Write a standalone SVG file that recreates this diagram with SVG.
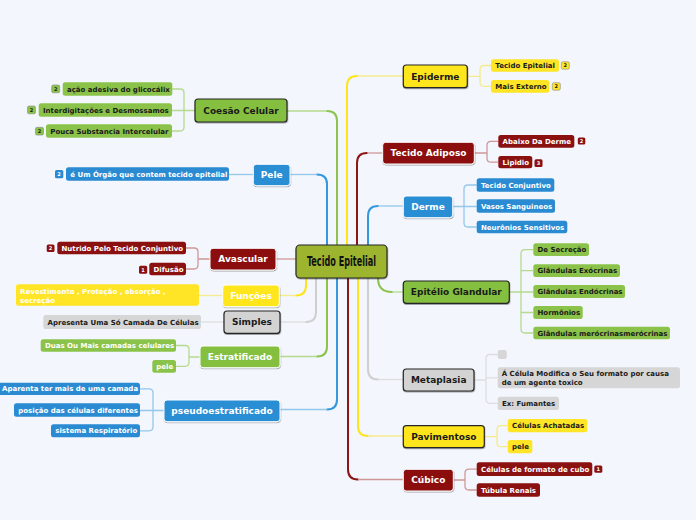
<svg xmlns="http://www.w3.org/2000/svg" width="696" height="520" viewBox="0 0 696 520">
<defs>
<filter id="sh" x="-20%" y="-30%" width="140%" height="170%">
<feDropShadow dx="0.4" dy="1" stdDeviation="0.7" flood-color="#000" flood-opacity="0.35"/>
</filter>
<style>
.t0{font-family:"DejaVu Sans Condensed","DejaVu Sans",sans-serif;font-weight:bold;font-size:14px;fill:#111;text-anchor:middle}
.t1{font-family:"DejaVu Sans",Verdana,sans-serif;font-weight:bold;font-size:9px;text-anchor:middle}
.t2{font-family:"DejaVu Sans",Verdana,sans-serif;font-weight:bold;font-size:7px}
.tb{font-family:"DejaVu Sans",sans-serif;font-weight:bold;font-size:5px;text-anchor:middle}
.w{fill:#fff}
.k{fill:#1a1a1a}
.dk{stroke:#262626;stroke-width:1.2}
.lt{stroke:#fff;stroke-width:1}
.sh{filter:url(#sh)}
.G{fill:#84bf40}.B{fill:#2b8ed5}.R{fill:#8b0c0c}.Y{fill:#ffe61e}.S{fill:#d3d3d3}.C{fill:#9db52f}
.g{fill:#8bc34a}.b{fill:#2a8bd2}.r{fill:#8b1010}.y{fill:#ffe526}.s{fill:#d6d6d6}
.bd{stroke:#888;stroke-width:0.6}
.ln{fill:none;stroke-width:2;stroke-linecap:round}
.br{fill:none;stroke-width:1.3}
.lg{stroke:#8cc34d}.lb{stroke:#3598dc}.lr{stroke:#8c1515}.ly{stroke:#ffe41c}.ls{stroke:#cfcfcf}
.pg{stroke:#b5da8d}.pb{stroke:#94c7ec}.pr{stroke:#cf9898}.py{stroke:#f6ea8c}.ps{stroke:#dedede}
</style>
</defs>
<rect width="696" height="520" fill="#f3f6fd"/>

<g id="connectors">
<!-- main trunks -->
<path class="ln lg" d="M337,245 V121 Q337,111 327,111"/><path class="br pg" stroke-width="2" d="M327,111 H287"/>
<path class="ln lb" d="M327,245 V184 Q327,174.5 317,174.5"/><path class="br pb" stroke-width="2" d="M317,174.5 H290"/>
<path class="ln ly" d="M347,245 V86 Q347,76 357,76"/><path class="br py" stroke-width="2" d="M357,76 H403"/>
<path class="ln lr" d="M357,245 V163 Q357,153 367,153"/><path class="br pr" stroke-width="2" d="M367,153 H383"/>
<path class="ln lb" d="M368,245 V216 Q368,206 378,206"/><path class="br pb" stroke-width="2" d="M378,206 H403"/>
<path class="br pr" stroke-width="2" d="M276,259 H296"/>
<path class="ln ly" d="M306,278 V285.5 Q306,295.5 296,295.5"/><path class="br py" stroke-width="2" d="M296,295.5 H279"/>
<path class="ln ls" d="M316,278 V312 Q316,322 306,322"/><path class="br ps" stroke-width="2" d="M306,322 H280"/>
<path class="ln lg" d="M327,278 V346.5 Q327,356.5 317,356.5"/><path class="br pg" stroke-width="2" d="M317,356.5 H280"/>
<path class="ln lb" d="M337,278 V399.5 Q337,409.5 327,409.5"/><path class="br pb" stroke-width="2" d="M327,409.5 H280"/>
<path class="ln lr" d="M348,278 V469.5 Q348,479.5 358,479.5"/><path class="br pr" stroke-width="2" d="M358,479.5 H403"/>
<path class="ln ly" d="M358,278 V426 Q358,436 368,436"/><path class="br py" stroke-width="2" d="M368,436 H403"/>
<path class="ln ls" d="M368,278 V369.5 Q368,379.5 378,379.5"/><path class="br ps" stroke-width="2" d="M378,379.5 H403"/>
<path class="ln lg" d="M378,278 Q378,292 392,292"/><path class="br pg" stroke-width="2" d="M392,292 H403"/>

<!-- sub brackets left -->
<path class="br pg" d="M195,110.5 H184 V93 Q184,89 180,89 H172 M195,110.5 H172 M184,110.5 V127 Q184,131 180,131 H172"/>
<path class="br pb" d="M253,174.5 H229"/>
<path class="br pr" d="M210,259 H198 V252 Q198,248 194,248 H186 M198,259 V265 Q198,269 194,269 H186"/>
<path class="br py" d="M222.7,295.5 H199"/>
<path class="br ps" d="M224,322 H201"/>
<path class="br pg" d="M200,357 H189 V349.5 Q189,345.5 185,345.5 H176 M189,357 V362.3 Q189,366.3 185,366.3 H176"/>
<path class="br pb" d="M164,410.5 H153 V392.8 Q153,388.8 149,388.8 H140 M153,410.5 H140 M153,410.5 V426.8 Q153,430.8 149,430.8 H140"/>
<!-- sub brackets right -->
<path class="br py" d="M467.3,76.3 H480 V69.5 Q480,65.5 484,65.5 H491 M480,76.3 V82.3 Q480,86.3 484,86.3 H491"/>
<path class="br pr" d="M474.3,153 H487 V145.3 Q487,141.3 491,141.3 H498.3 M487,153 V158.2 Q487,162.2 491,162.2 H498.3"/>
<path class="br pb" d="M452.7,206.5 H464 V189 Q464,185 468,185 H476.7 M464,206.5 H476.7 M464,206.5 V223 Q464,227 468,227 H476.7"/>
<path class="br pg" d="M509.3,292 H521 V253.7 Q521,249.7 525,249.7 H533.3 M521,270.7 H533.3 M521,292 H533.3 M521,292 V329 Q521,333 525,333 H533.3 M521,312.5 H533.3"/>
<path class="br ps" d="M474,380 H486 V358.5 Q486,354.5 490,354.5 H497.7 M486,377.8 H497.7 M486,380 V399.3 Q486,403.3 490,403.3 H497.7"/>
<path class="br py" d="M484.3,436.7 H497 V429.7 Q497,425.7 501,425.7 H507.7 M497,436.7 V442.7 Q497,446.7 501,446.7 H507.7"/>
<path class="br pr" d="M453.3,480 H465 V473.2 Q465,469.2 469,469.2 H476.7 M465,480 V486 Q465,490 469,490 H476.7"/>
</g>

<g id="center">
<rect class="C dk sh" x="296" y="245" width="91" height="33" rx="4"/>
<text class="t0" x="341.5" y="266" textLength="69" lengthAdjust="spacingAndGlyphs">Tecido Epitelial</text>
</g>

<g id="coesao">
<rect class="G dk sh" x="195" y="99" width="92" height="23" rx="3"/>
<text class="t1 k" x="241" y="113.7">Coesão Celular</text>
<rect class="g" x="62.7" y="82.3" width="109.6" height="13.4" rx="2.5"/><text class="t2 k" x="67" y="91.6">ação adesiva do glicocálix</text>
<rect class="g" x="38.7" y="103.3" width="133.3" height="13.4" rx="2.5"/><text class="t2 k" x="43" y="112.6">Interdigitações e Desmossamos</text>
<rect class="g" x="46" y="124.3" width="126" height="13.4" rx="2.5"/><text class="t2 k" x="50.3" y="133.6">Pouca Substancia Intercelular</text>
<rect class="g bd" x="51.7" y="85" width="8" height="7.8" rx="1.5"/><text class="tb k" x="55.7" y="90.7">2</text>
<rect class="g bd" x="27.5" y="106" width="8" height="7.8" rx="1.5"/><text class="tb k" x="31.5" y="111.7">2</text>
<rect class="g bd" x="35.5" y="127.3" width="8" height="7.8" rx="1.5"/><text class="tb k" x="39.5" y="133">2</text>
</g>

<g id="pele">
<rect class="B lt sh" x="253.3" y="164.3" width="36.7" height="21.4" rx="3"/>
<text class="t1 w" x="271.7" y="178.2">Pele</text>
<rect class="b" x="66" y="167.3" width="163" height="13.4" rx="2.5"/><text class="t2 w" x="70.3" y="176.6">é Um Órgão que contem tecido epitelial</text>
<rect class="b" x="55" y="170" width="8.3" height="8.3" rx="1.5"/><text class="tb w" x="59.1" y="176">2</text>
</g>

<g id="avascular">
<rect class="R lt sh" x="210" y="248.3" width="66" height="21.7" rx="3"/>
<text class="t1 w" x="243" y="262.4">Avascular</text>
<rect class="r" x="57.3" y="241.7" width="128.7" height="12.6" rx="2.5"/><text class="t2 w" x="61.5" y="250.6">Nutrido Pelo Tecido Conjuntivo</text>
<rect class="r" x="149.3" y="262.7" width="36.7" height="12.6" rx="2.5"/><text class="t2 w" x="153.5" y="271.6">Difusão</text>
<rect class="r" x="46.7" y="244.6" width="7.8" height="7.5" rx="1.5"/><text class="tb w" x="50.6" y="250.1">2</text>
<rect class="r" x="139" y="265.7" width="8.2" height="8" rx="1.5"/><text class="tb w" x="143.1" y="271.5">1</text>
</g>

<g id="funcoes">
<rect class="Y lt sh" x="222.7" y="285" width="56.6" height="21.7" rx="3"/>
<text class="t1 w" x="251" y="299.1">Funções</text>
<rect class="y" x="16" y="284.3" width="183" height="21.4" rx="2.5"/>
<text class="t2 w" x="20" y="294">Revestimento , Proteção , absorção ,</text>
<text class="t2 w" x="20" y="302.5">secreção</text>
</g>

<g id="simples">
<rect class="S dk sh" x="224" y="311" width="56" height="22.3" rx="3"/>
<text class="t1 k" x="252" y="325.4">Simples</text>
<rect class="s" x="43.3" y="315" width="157.7" height="14" rx="2.5"/><text class="t2 k" x="47.5" y="324.6">Apresenta Uma Só Camada De Células</text>
</g>

<g id="estratificado">
<rect class="G lt sh" x="200" y="346" width="80" height="21.7" rx="3"/>
<text class="t1 w" x="240" y="360.1">Estratificado</text>
<rect class="g" x="40.7" y="339.3" width="135.3" height="12.4" rx="2.5"/><text class="t2 w" x="45" y="348">Duas Ou Mais camadas celulares</text>
<rect class="g" x="152.3" y="360" width="23.7" height="12.7" rx="2.5"/><text class="t2 w" x="156.3" y="368.8">pele</text>
</g>

<g id="pseudo">
<rect class="B lt sh" x="164" y="400" width="116" height="21.7" rx="3"/>
<text class="t1 w" x="222" y="414.1">pseudoestratificado</text>
<rect class="b" x="-3" y="382.7" width="143" height="12.3" rx="2.5"/><text class="t2 w" x="2" y="391.4">Aparenta ter mais de uma camada</text>
<rect class="b" x="14" y="403.3" width="126" height="13.4" rx="2.5"/><text class="t2 w" x="18.3" y="412.6">posição das células diferentes</text>
<rect class="b" x="51" y="424.3" width="89" height="13" rx="2.5"/><text class="t2 w" x="55.3" y="433.4">sistema Respiratório</text>
</g>

<g id="epiderme">
<rect class="Y dk sh" x="403.3" y="65" width="64" height="22.7" rx="3"/>
<text class="t1 k" x="435.3" y="79.6">Epiderme</text>
<rect class="y" x="491" y="59.3" width="68" height="12.4" rx="2.5"/><text class="t2 k" x="495.3" y="68">Tecido Epitelial</text>
<rect class="y" x="491" y="80" width="58.3" height="12.7" rx="2.5"/><text class="t2 k" x="495.3" y="88.8">Mais Externo</text>
<rect class="y bd" x="561.3" y="61.7" width="8" height="7.5" rx="1.5"/><text class="tb k" x="565.3" y="67.2">2</text>
<rect class="y bd" x="552.3" y="82.7" width="8" height="7.5" rx="1.5"/><text class="tb k" x="556.3" y="88.2">2</text>
</g>

<g id="adiposo">
<rect class="R lt sh" x="382.7" y="142.3" width="91.6" height="21.7" rx="3"/>
<text class="t1 w" x="428.5" y="156.4">Tecido Adiposo</text>
<rect class="r" x="498.3" y="135" width="76" height="12.7" rx="2.5"/><text class="t2 w" x="502.6" y="143.8">Abaixo Da Derme</text>
<rect class="r" x="498.3" y="156" width="34" height="12.3" rx="2.5"/><text class="t2 w" x="502.6" y="164.7">Lipidio</text>
<rect class="r" x="577.8" y="137.5" width="7.5" height="7" rx="1.5"/><text class="tb w" x="581.5" y="142.8">2</text>
<rect class="r" x="534.5" y="159.3" width="8" height="7.7" rx="1.5"/><text class="tb w" x="538.5" y="164.9">3</text>
</g>

<g id="derme">
<rect class="B lt sh" x="403.3" y="196" width="49.4" height="21.7" rx="3"/>
<text class="t1 w" x="428" y="210.1">Derme</text>
<rect class="b" x="476.7" y="178.3" width="77.6" height="13.4" rx="2.5"/><text class="t2 w" x="481" y="187.6">Tecido Conjuntivo</text>
<rect class="b" x="476.7" y="199.3" width="78.3" height="13.4" rx="2.5"/><text class="t2 w" x="481" y="208.6">Vasos Sanguineos</text>
<rect class="b" x="476.7" y="220.7" width="90.6" height="12.6" rx="2.5"/><text class="t2 w" x="481" y="229.6">Neurônios Sensitivos</text>
</g>

<g id="glandular">
<rect class="G dk sh" x="403.3" y="281" width="106" height="22.3" rx="3"/>
<text class="t1 k" x="456.3" y="295.4">Epitélio Glandular</text>
<rect class="g" x="533.3" y="243.3" width="55.7" height="12.7" rx="2.5"/><text class="t2 k" x="537.5" y="252.1">De Secreção</text>
<rect class="g" x="533.3" y="264.3" width="86.7" height="12.7" rx="2.5"/><text class="t2 k" x="537.5" y="273.1">Glândulas Exócrinas</text>
<rect class="g" x="533.3" y="285" width="91.7" height="13" rx="2.5"/><text class="t2 k" x="537.5" y="294">Glândulas Endócrinas</text>
<rect class="g" x="533.3" y="306" width="49.4" height="13" rx="2.5"/><text class="t2 k" x="537.5" y="315">Hormônios</text>
<rect class="g" x="533.3" y="326.7" width="136.7" height="12.6" rx="2.5"/><text class="t2 k" x="537.5" y="335.6">Glândulas merócrinasmerócrinas</text>
</g>

<g id="metaplasia">
<rect class="S dk sh" x="403.3" y="369" width="70.7" height="22" rx="3"/>
<text class="t1 k" x="438.7" y="383.2">Metaplasia</text>
<rect class="s" x="497.7" y="350" width="9" height="9" rx="2"/>
<rect class="s" x="497.7" y="367.3" width="182.3" height="21" rx="2.5"/>
<text class="t2 k" x="501.7" y="375.8">Á Célula Modifica o Seu formato por causa</text>
<text class="t2 k" x="501.7" y="384.8">de um agente toxico</text>
<rect class="s" x="497.7" y="396.7" width="61.3" height="13.3" rx="2.5"/><text class="t2 k" x="502" y="405.8">Ex: Fumantes</text>
</g>

<g id="pavimentoso">
<rect class="Y dk sh" x="403.3" y="425.7" width="81" height="22" rx="3"/>
<text class="t1 k" x="443.8" y="439.9">Pavimentoso</text>
<rect class="y" x="507.7" y="419" width="79.6" height="13.3" rx="2.5"/><text class="t2 k" x="512" y="428.1">Células Achatadas</text>
<rect class="y" x="507.7" y="440" width="24.6" height="13.3" rx="2.5"/><text class="t2 k" x="512" y="449.1">pele</text>
</g>

<g id="cubico">
<rect class="R lt sh" x="403.3" y="469.3" width="50" height="21.7" rx="3"/>
<text class="t1 w" x="428.3" y="483.4">Cúbico</text>
<rect class="r" x="476.7" y="462.3" width="115.6" height="13.7" rx="2.5"/><text class="t2 w" x="481" y="471.7">Células de formato de cubo</text>
<rect class="r" x="476.7" y="483.3" width="63.3" height="13.4" rx="2.5"/><text class="t2 w" x="481" y="492.6">Túbula Renais</text>
<rect class="r" x="594.3" y="465.5" width="8" height="7.3" rx="1.5"/><text class="tb w" x="598.3" y="470.9">1</text>
</g>
</svg>
